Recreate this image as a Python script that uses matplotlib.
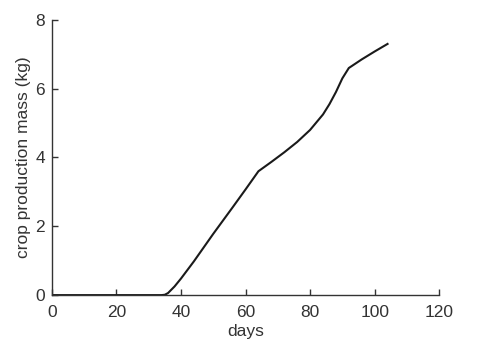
import matplotlib.pyplot as plt

days = [0, 34, 35, 36, 38, 40, 44, 50, 56, 60, 64, 68, 72, 76, 80, 84, 86, 88, 90, 92, 96, 100, 104]
mass = [0, 0, 0.01, 0.06, 0.25, 0.48, 0.98, 1.78, 2.55, 3.07, 3.6, 3.87, 4.15, 4.45, 4.8, 5.25, 5.55, 5.9, 6.3, 6.6, 6.85, 7.08, 7.3]

plt.rcParams['font.family'] = ['Liberation Sans', 'DejaVu Sans']

fig = plt.figure(figsize=(4.8, 3.48), dpi=100)
ax = fig.add_axes([0.108, 0.152, 0.807, 0.791])

ax.plot(days, mass, color='#1a1a1a', linewidth=1.5)

ax.set_xlim(0, 120)
ax.set_ylim(0, 8)
ax.set_xticks(range(0, 121, 20))
ax.set_yticks(range(0, 9, 2))
ax.set_xlabel("days", fontsize=12.5, color='#333333', labelpad=3)
ax.set_ylabel("crop production mass (kg)", fontsize=12.5, color='#333333', labelpad=3)

for side in ['top', 'right']:
    ax.spines[side].set_visible(False)
for side in ['left', 'bottom']:
    ax.spines[side].set_color('#333333')
    ax.spines[side].set_linewidth(1.0)

ax.tick_params(direction='in', length=4, width=1, colors='#333333', labelsize=12.5)
ax.tick_params(axis='x', pad=7)
ax.tick_params(axis='y', pad=5)

fig.savefig("out.png", dpi=100)
